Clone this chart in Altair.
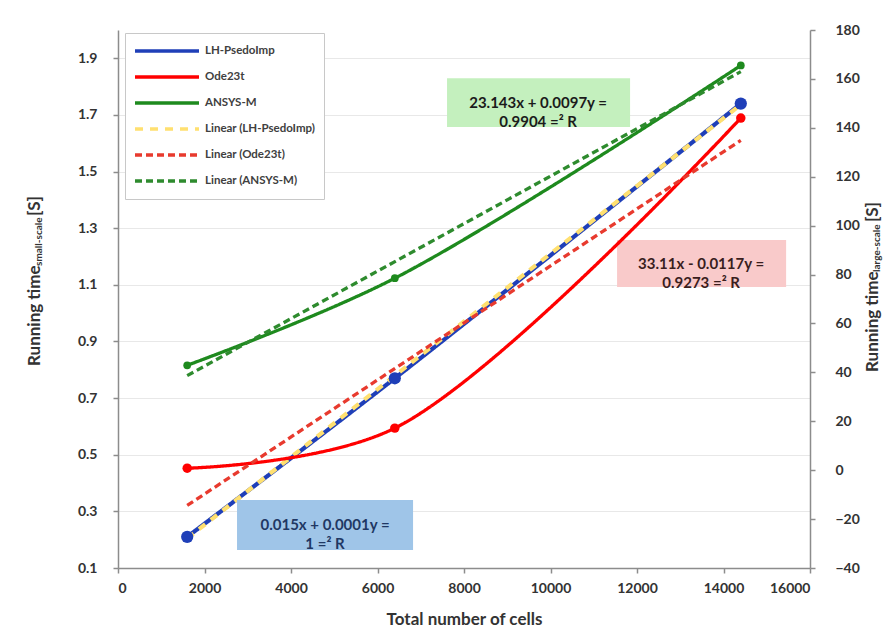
import altair as alt
import pandas as pd

# ---------------- data ----------------
cells = [1600, 6400, 14400]
lh_psedoimp = [0.21, 0.77, 1.74]      # small-scale (left) axis
ode23t = [0.8, 17.2, 144.0]           # large-scale (right) axis
ansys_m = [42.9, 78.5, 165.5]         # large-scale (right) axis

series_names = ["LH-PsedoImp", "Ode23t", "ANSYS-M"]
trend_names = ["Linear (LH-PsedoImp)", "Linear (Ode23t)", "Linear (ANSYS-M)"]
legend_order = series_names + trend_names

x_ticks = [0, 2000, 4000, 6000, 8000, 10000, 12000, 14000, 16000]
left_ticks = [0.1, 0.3, 0.5, 0.7, 0.9, 1.1, 1.3, 1.5, 1.7, 1.9]
right_ticks = [-40, -20, 0, 20, 40, 60, 80, 100, 120, 140, 160, 180]

eq_texts = [
    "23.143x + 0.0097y =\n0.9904 =² R",
    "33.11x - 0.0117y =\n0.9273 =² R",
    "0.015x + 0.0001y =\n1 =² R",
]

# ---------------- styles ----------------
colors = ["#1F3FB8", "#FF0000", "#1E8A1E", "#FFE070", "#E83A2E", "#2E8B2E"]
dashes = [[1, 0], [1, 0], [1, 0], [8, 7], [7, 4], [7, 4]]
point_colors = {"LH-PsedoImp": "#1F3FB8", "Ode23t": "#FF0000", "ANSYS-M": "#1E8A1E"}
point_sizes = {"LH-PsedoImp": 150, "Ode23t": 90, "ANSYS-M": 60}
FONT = "Lato"
TXT = "#333333"

# annotation boxes (x in cells, y on the small-scale axis)
ann_boxes = pd.DataFrame({
    "x": [7608, 11539, 2752], "x2": [11840, 15448, 6822],
    "y": [1.830, 1.258, 0.340], "y2": [1.657, 1.092, 0.164],
    "fill": ["#C4F0BE", "#F9CACA", "#9FC5E8"],
})
ann_text = pd.DataFrame({
    "x": [9713, 13482, 4787], "y": [1.742, 1.175, 0.252],
    "t": eq_texts, "c": ["#1b1b1b", "#3a1e1e", "#1F3864"],
})

# ---------------- tables ----------------
left_df = pd.DataFrame({"cells": cells, "value": lh_psedoimp, "series": series_names[0]})
right_df = pd.concat([
    pd.DataFrame({"cells": cells, "value": ode23t, "series": series_names[1]}),
    pd.DataFrame({"cells": cells, "value": ansys_m, "series": series_names[2]}),
], ignore_index=True)

color_scale = alt.Scale(domain=legend_order, range=colors)
dash_scale = alt.Scale(domain=legend_order, range=dashes)
leg = alt.Legend(
    title=None, orient="none", legendX=7, legendY=3,
    symbolType="stroke", symbolSize=4096, symbolStrokeWidth=3.5,
    clipHeight=20, rowPadding=6, labelOffset=4,
    labelFont=FONT, labelFontSize=11.5, labelFontWeight="bold", labelColor="#404040",
    fillColor="white", strokeColor="#c8c8c8", padding=8,
)

x_enc = alt.X(
    "cells:Q",
    scale=alt.Scale(domain=[0, 16000], nice=False, zero=False),
    axis=alt.Axis(values=x_ticks, title="Total number of cells", grid=False,
                  labelPadding=8, titlePadding=16, format="d"),
)
left_y = alt.Y(
    "value:Q",
    scale=alt.Scale(domain=[0.1, 2.0], nice=False, zero=False),
    axis=alt.Axis(orient="left", values=left_ticks, format=".1f", grid=True,
                  gridColor="#e8e8e8", gridWidth=1, title=None, labelPadding=16),
)
right_y = alt.Y(
    "value:Q",
    scale=alt.Scale(domain=[-40, 180], nice=False, zero=False),
    axis=alt.Axis(orient="right", values=right_ticks, grid=False, title=None,
                  labelPadding=20),
)


def series_layers(df, y_enc, width):
    base = alt.Chart(df)
    lines = base.mark_line(interpolate="catmull-rom", strokeWidth=width).encode(
        x=x_enc, y=y_enc,
        color=alt.Color("series:N", scale=color_scale, legend=leg),
        strokeDash=alt.StrokeDash("series:N", scale=dash_scale, legend=leg),
    )
    trend = base.transform_regression(
        on="cells", regression="value", groupby=["series"], method="linear"
    ).transform_calculate(
        label="'Linear (' + datum.series + ')'"
    ).mark_line(strokeWidth=width).encode(
        x=x_enc, y=y_enc,
        color=alt.Color("label:N", scale=color_scale, legend=leg),
        strokeDash=alt.StrokeDash("label:N", scale=dash_scale, legend=leg),
    )
    pts = []
    for name in df["series"].unique():
        pts.append(
            base.transform_filter(alt.datum.series == name).mark_point(
                filled=True, opacity=1, size=point_sizes[name], color=point_colors[name]
            ).encode(x=x_enc, y=y_enc)
        )
    return [lines, trend] + pts


def title_text(label, x, y, size):
    return alt.Chart(pd.DataFrame({"t": [label]})).mark_text(
        angle=270, align="left", baseline="middle", font=FONT, fontSize=size,
        fontWeight="bold", color=TXT,
    ).encode(x=alt.value(x), y=alt.value(y), text="t:N")


boxes = alt.Chart(ann_boxes).mark_rect().encode(
    x="x:Q", x2="x2:Q", y=alt.Y("y:Q", scale=alt.Scale(domain=[0.1, 2.0])), y2="y2:Q",
    fill=alt.Fill("fill:N", scale=None),
)
texts = alt.Chart(ann_text).mark_text(
    font=FONT, fontSize=15, fontWeight="bold", lineBreak="\n", lineHeight=19,
    align="center", baseline="middle",
).encode(x="x:Q", y="y:Q", text="t:N", color=alt.Color("c:N", scale=None))

left_layer = alt.layer(
    *series_layers(left_df, left_y, 4.2),
    boxes, texts,
    title_text("Running time", -83, 336, 17),
    title_text("small-scale", -79, 236, 10),
    title_text("[S]", -83, 186, 17),
)
right_layer = alt.layer(
    *series_layers(right_df, right_y, 3.3),
    title_text("Running time", 755, 342, 17),
    title_text("large-scale", 759, 242, 10),
    title_text("[S]", 755, 192, 17),
)

chart = alt.layer(left_layer, right_layer).resolve_scale(
    y="independent"
).properties(
    width=692, height=538,
    autosize=alt.AutoSizeParams(type="none"),
    padding={"left": 118, "top": 30, "right": 75, "bottom": 69},
    background="white",
).configure_view(
    stroke=None
).configure_axis(
    domainColor="#8c8c8c", domainWidth=1.5, tickColor="#8c8c8c", tickSize=5,
    tickWidth=1.5, labelFont=FONT, labelFontSize=14, labelFontWeight="bold",
    labelColor=TXT, titleFont=FONT, titleFontSize=17, titleFontWeight="bold",
    titleColor=TXT,
)

chart.save("out.html", embed_options={"renderer": "svg", "actions": False})
